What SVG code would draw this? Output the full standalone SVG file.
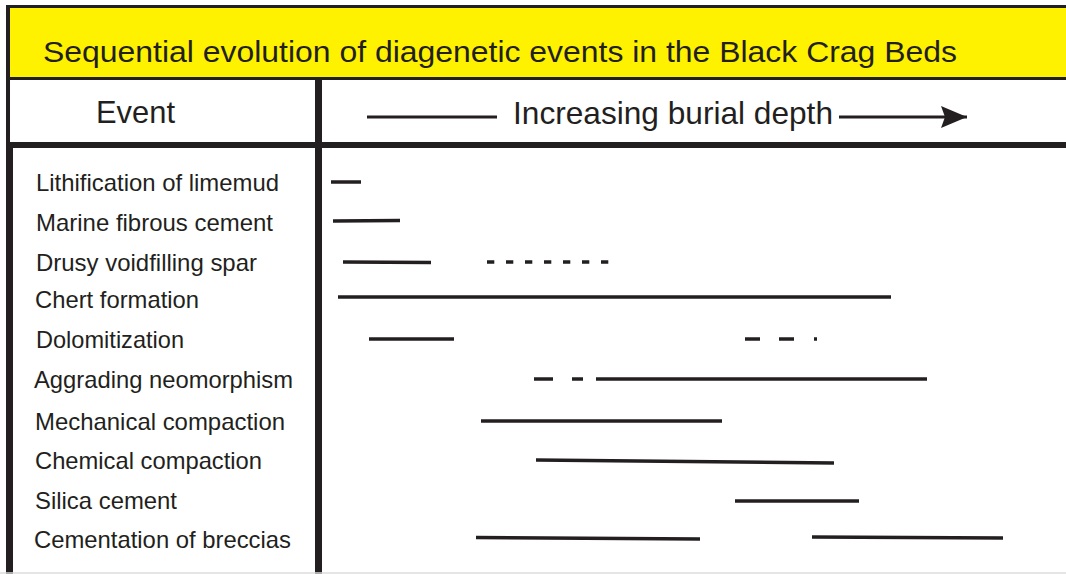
<svg xmlns="http://www.w3.org/2000/svg" width="1066" height="574" viewBox="0 0 1066 574">
<style>
.t{font-family:"Liberation Sans",Arial,sans-serif;fill:#231f20}
.row{font-size:24px}
.ev{stroke:#231f20;stroke-width:3.5;fill:none}
.bd{fill:#231f20}
</style>
<defs>
<marker id="ah" markerUnits="userSpaceOnUse" markerWidth="30" markerHeight="24" refX="26" refY="11" orient="auto">
<path d="M0,0 L26,11 L0,22 L4,11 Z" fill="#231f20"/>
</marker>
</defs>
<rect width="1066" height="574" fill="#ffffff"/>
<g id="frame">
<rect x="8" y="8" width="1058" height="70" fill="#fff200"/>
<rect class="bd" x="6" y="5" width="1060" height="3"/>
<rect class="bd" x="6" y="77" width="1060" height="3"/>
<rect class="bd" x="6" y="5" width="4" height="140"/>
<rect class="bd" x="6" y="142" width="7" height="432"/>
<rect class="bd" x="6" y="142" width="1060" height="6"/>
<rect class="bd" x="315" y="79" width="7" height="495"/>
<line x1="0" y1="573" x2="1066" y2="573" stroke="#dcdcdc" stroke-width="1.5"/>
</g>
<g id="title">
<text class="t" x="43" y="62" font-size="30" textLength="914" lengthAdjust="spacingAndGlyphs">Sequential evolution of diagenetic events in the Black Crag Beds</text>
</g>
<g id="header">
<text class="t" x="96" y="123" font-size="30.5" textLength="79" lengthAdjust="spacingAndGlyphs">Event</text>
<text class="t" x="513" y="124" font-size="30.5" textLength="320" lengthAdjust="spacingAndGlyphs">Increasing burial depth</text>
</g>
<g id="connectors">
<line x1="367" y1="117" x2="497" y2="117" stroke="#231f20" stroke-width="3"/>
<line x1="839" y1="117" x2="967" y2="117" stroke="#231f20" stroke-width="3" marker-end="url(#ah)"/>
</g>
<g id="labels">
<text class="t row" x="36" y="191" textLength="243" lengthAdjust="spacingAndGlyphs">Lithification of limemud</text>
<text class="t row" x="36" y="231" textLength="237" lengthAdjust="spacingAndGlyphs">Marine fibrous cement</text>
<text class="t row" x="36" y="271" textLength="221" lengthAdjust="spacingAndGlyphs">Drusy voidfilling spar</text>
<text class="t row" x="35" y="308" textLength="164" lengthAdjust="spacingAndGlyphs">Chert formation</text>
<text class="t row" x="36" y="348" textLength="148" lengthAdjust="spacingAndGlyphs">Dolomitization</text>
<text class="t row" x="34" y="388" textLength="259" lengthAdjust="spacingAndGlyphs">Aggrading neomorphism</text>
<text class="t row" x="35" y="430" textLength="250" lengthAdjust="spacingAndGlyphs">Mechanical compaction</text>
<text class="t row" x="35" y="469" textLength="227" lengthAdjust="spacingAndGlyphs">Chemical compaction</text>
<text class="t row" x="35" y="509" textLength="142" lengthAdjust="spacingAndGlyphs">Silica cement</text>
<text class="t row" x="34" y="548" textLength="257" lengthAdjust="spacingAndGlyphs">Cementation of breccias</text>
</g>
<g id="bars">
<line class="ev" x1="331" y1="182" x2="361" y2="182"/>
<line class="ev" x1="333" y1="221" x2="400" y2="220.5"/>
<line class="ev" x1="343" y1="262" x2="431" y2="262.5"/>
<line class="ev" x1="487" y1="262" x2="609" y2="262" stroke-dasharray="7.3 11.7"/>
<line class="ev" x1="338" y1="297" x2="891" y2="297"/>
<line class="ev" x1="369" y1="339" x2="454" y2="339"/>
<line class="ev" x1="745" y1="339" x2="760" y2="339"/>
<line class="ev" x1="779" y1="339" x2="794" y2="339"/>
<line class="ev" x1="814" y1="339" x2="817" y2="339"/>
<line class="ev" x1="534" y1="379" x2="553" y2="379"/>
<line class="ev" x1="572" y1="379" x2="583" y2="379"/>
<line class="ev" x1="596" y1="379" x2="927" y2="379"/>
<line class="ev" x1="481" y1="421" x2="722" y2="421"/>
<line class="ev" x1="536" y1="460" x2="834" y2="463"/>
<line class="ev" x1="735" y1="501" x2="859" y2="501"/>
<line class="ev" x1="476" y1="537.5" x2="700" y2="539"/>
<line class="ev" x1="812" y1="537" x2="1003" y2="538"/>
</g>
</svg>
